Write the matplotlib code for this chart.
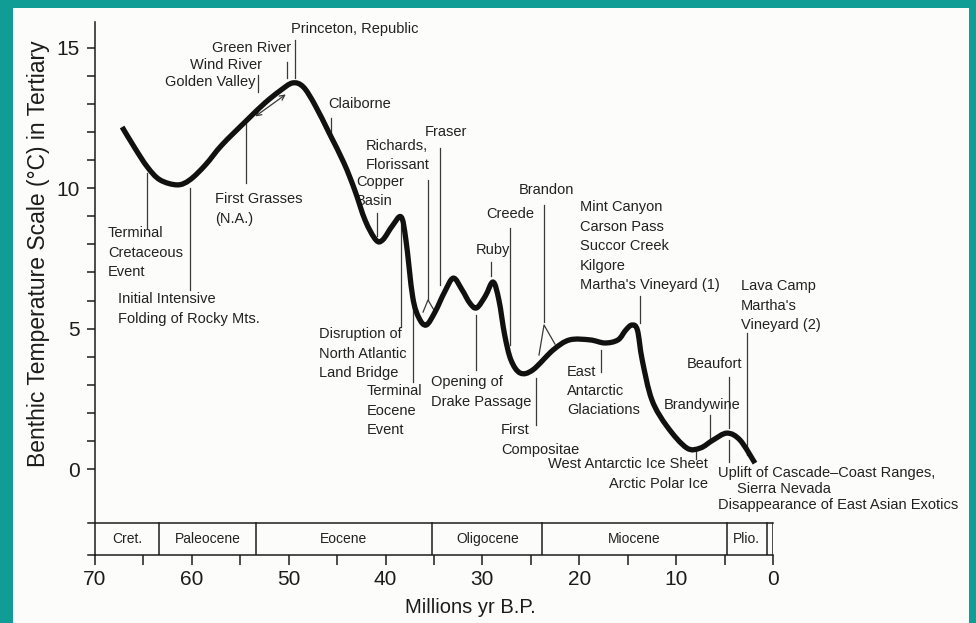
import numpy as np
import matplotlib.pyplot as plt
from matplotlib.patches import Rectangle, PathPatch
from matplotlib.path import Path

plt.rcParams['font.family'] = ['Liberation Sans', 'DejaVu Sans']

# benthic temperature curve (Myr B.P., deg C)
age = [67.2, 65.9, 64.6, 63.3, 61.5, 60.2, 58.6, 56.9, 54.3, 52.45, 50.9, 49.6,
       48.5, 47.3, 45.8, 44.3, 43.2, 42.1, 41.0, 40.3, 39.3, 38.4, 37.9, 37.2,
       36.55, 35.8, 34.9, 33.9, 33.0, 32.1, 31.3, 30.6, 29.7, 28.9, 28.3, 27.7,
       27.05, 26.1, 24.8, 22.7, 21.0, 18.9, 17.35, 16.0, 15.2, 14.56, 14.0, 13.5,
       12.5, 10.9, 8.9, 7.5, 6.2, 4.75, 3.4, 1.86]
temp = [12.18, 11.44, 10.76, 10.30, 10.12, 10.30, 10.83, 11.54, 12.43, 13.04, 13.47, 13.75,
        13.61, 12.97, 11.95, 10.90, 9.95, 8.85, 8.16, 8.16, 8.66, 8.98, 8.16, 6.13,
        5.38, 5.13, 5.59, 6.31, 6.80, 6.38, 5.91, 5.74, 6.16, 6.66, 6.02, 4.77,
        3.88, 3.42, 3.53, 4.24, 4.60, 4.60, 4.49, 4.60, 4.95, 5.13, 4.95, 3.88,
        2.46, 1.50, 0.75, 0.75, 1.03, 1.28, 1.03, 0.21]

# geologic epochs along the bottom
epoch_names = ['Cret.', 'Paleocene', 'Eocene', 'Oligocene', 'Miocene', 'Plio.', '']
epoch_edges = [70, 63.4, 53.4, 35.2, 23.8, 4.8, 0.6, 0]

# event / flora labels
label_text = ['Terminal\nCretaceous\nEvent', 'Initial Intensive\nFolding of Rocky Mts.',
              'First Grasses\n(N.A.)', 'Golden Valley', 'Wind River', 'Green River',
              'Princeton, Republic', 'Claiborne', 'Fraser', 'Richards,\nFlorissant',
              'Copper\nBasin', 'Disruption of\nNorth Atlantic\nLand Bridge',
              'Terminal\nEocene\nEvent', 'Opening of\nDrake Passage', 'Ruby', 'Creede',
              'Brandon', 'First\nCompositae',
              "Mint Canyon\nCarson Pass\nSuccor Creek\nKilgore\nMartha's Vineyard (1)",
              'East\nAntarctic\nGlaciations', 'West Antarctic Ice Sheet\nArctic Polar Ice',
              'Brandywine', 'Beaufort', "Lava Camp\nMartha's\nVineyard (2)",
              'Uplift of Cascade\u2013Coast Ranges,', 'Sierra Nevada',
              'Disappearance of East Asian Exotics']
label_x = [68.66, 67.63, 57.61, 53.48, 52.76, 49.76, 49.76, 45.94, 35.93, 42.02,
           43.05, 46.87, 41.92, 35.31, 30.67, 29.63, 26.23, 28.08, 19.93, 21.27,
           6.71, 11.25, 8.88, 3.31, 5.68, 3.72, 5.68]
label_y = [7.70, 5.70, 9.26, 13.79, 14.39, 15.0, 15.68, 13.0, 12.01, 11.17,
           9.89, 4.10, 2.07, 2.74, 7.80, 9.08, 9.94, 1.03, 7.93, 2.78,
           -0.18, 2.28, 3.74, 5.82, -0.14, -0.71, -1.28]
label_ha = ['left'] * 3 + ['right'] * 3 + ['left'] * 14 + ['right'] + ['left'] * 6

# leader lines: x, top, bottom
lead_x = [64.63, 60.19, 54.41, 53.17, 50.18, 49.35, 45.64, 40.89, 38.41, 37.17,
          35.62, 34.38, 30.67, 29.12, 27.16, 23.64, 24.47, 13.73, 17.76, 7.95,
          6.51, 4.55, 4.55, 2.69]
lead_top = [10.55, 10.01, 12.43, 14.04, 14.50, 15.28, 12.50, 9.12, 8.69, 6.20,
            10.30, 11.44, 5.49, 7.37, 8.59, 9.41, 3.24, 6.16, 4.24, 0.64,
            1.92, 3.28, 1.03, 4.85]
lead_bot = [8.59, 6.38, 10.19, 13.43, 13.93, 13.93, 11.90, 8.30, 5.06, 3.10,
            6.02, 6.56, 3.53, 6.88, 4.42, 5.24, 1.57, 5.20, 3.46, 0.36,
            1.03, 1.46, 0.25, 0.50]

# forked ends (Richards/Florissant, Brandon)
fork_x = [[36.13, 35.62, 35.0], [24.16, 23.64, 22.51]]
fork_y = [[5.59, 6.02, 5.66], [4.06, 5.13, 4.45]]

# double arrow near Green River
arrow_x = [53.69, 50.07]
arrow_y = [12.50, 13.40]

fig = plt.figure(figsize=(9.76, 6.23), dpi=100)
fig.patch.set_facecolor('#0f9d96')
fig.patches.append(Rectangle((13 / 976, 0), 956 / 976, 615 / 623, transform=fig.transFigure,
                             facecolor='#fcfcfb', edgecolor='none', zorder=-10))

ax = fig.add_axes([95 / 976, 1 - 555 / 623, 678 / 976, 533 / 623])
ax.set_facecolor('none')
ax.set_xlim(70, 0)
ax.set_ylim(-3.06, 15.92)

ink = '#1c1c1c'
txt = '#222222'
thin = '#3a3a3a'

# smooth pen stroke through the read points (Catmull-Rom drawn as cubic Beziers)
pts = np.column_stack([age, temp])
verts = [pts[0]]
codes = [Path.MOVETO]
n = len(pts)
for i in range(n - 1):
    p0, p1 = pts[max(i - 1, 0)], pts[i]
    p2, p3 = pts[i + 1], pts[min(i + 2, n - 1)]
    verts += [p1 + (p2 - p0) / 6, p2 - (p3 - p1) / 6, p2]
    codes += [Path.CURVE4] * 3
ax.add_patch(PathPatch(Path(verts, codes), fill=False, edgecolor='#111111', lw=3.8,
                       joinstyle='round', capstyle='butt', zorder=5))

for x, y0, y1 in zip(lead_x, lead_top, lead_bot):
    ax.plot([x, x], [y0, y1], color=thin, lw=0.9)
for fx, fy in zip(fork_x, fork_y):
    ax.plot(fx, fy, color=thin, lw=0.9)
ax.annotate('', xy=(arrow_x[1], arrow_y[1]), xytext=(arrow_x[0], arrow_y[0]),
            arrowprops=dict(arrowstyle='<->', color=thin, lw=0.9, mutation_scale=9))

for s, x, y, ha in zip(label_text, label_x, label_y, label_ha):
    ax.text(x, y, s, ha=ha, va='center', fontsize=10.5, color=txt,
            linespacing=1.5, clip_on=False)

# epoch strip
box_top, box_bot = -1.92, -3.06
ax.plot([70.7, 0], [box_top, box_top], color=ink, lw=1.1, clip_on=False)
ax.plot([70.7, 70], [box_bot, box_bot], color=ink, lw=1.1, clip_on=False)
for e in epoch_edges[1:]:
    ax.plot([e, e], [box_top, box_bot], color=ink, lw=1.1)
for name, a, b in zip(epoch_names, epoch_edges[:-1], epoch_edges[1:]):
    ax.text((a + b) / 2, (box_top + box_bot) / 2, name, ha='center', va='center',
            fontsize=10, color=txt)

for side in ['top', 'right']:
    ax.spines[side].set_visible(False)
for side in ['left', 'bottom']:
    ax.spines[side].set_color(ink)
    ax.spines[side].set_linewidth(1.1)

ax.set_xticks(range(70, -1, -10))
ax.set_xticks(range(65, 0, -10), minor=True)
ax.set_yticks([0, 5, 10, 15])
ax.set_yticks(range(0, 16), minor=True)
ax.tick_params(which='both', direction='out', color=ink, width=1.1)
ax.tick_params(axis='x', which='both', length=7, pad=4, labelsize=15, labelcolor=ink)
ax.tick_params(axis='y', which='both', length=6, pad=5, labelsize=15, labelcolor=ink)

ax.set_ylabel('Benthic Temperature Scale (\u00b0C) in Tertiary', fontsize=16.5, color=ink)
ax.yaxis.set_label_coords(-0.066, 0.565)
ax.set_xlabel('Millions yr B.P.', fontsize=14.5, color=ink)
ax.xaxis.set_label_coords(0.553, -0.081)

fig.savefig('out.png', dpi=100, facecolor=fig.get_facecolor())
